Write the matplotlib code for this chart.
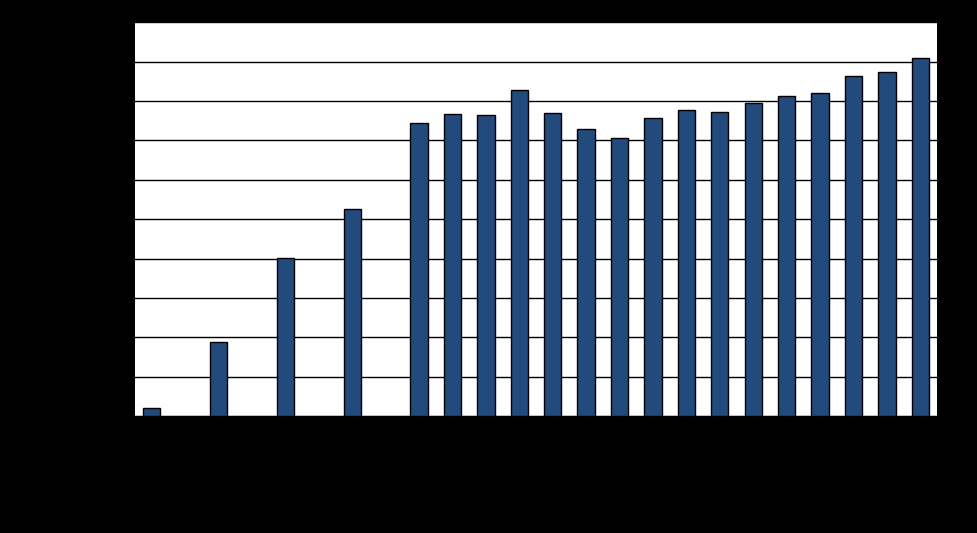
import numpy as np
import matplotlib
matplotlib.use("Agg")
import matplotlib.pyplot as plt

# 24 categories; labels are drawn in black on black in the reference, so unreadable
categories = [str(y) for y in range(1990, 2014)]
values = [2.0, np.nan, 18.7, np.nan, 40.1, np.nan, 52.5, np.nan,
          74.4, 76.6, 76.4, 82.7, 76.9, 72.8, 70.5, 75.6,
          77.6, 77.2, 79.4, 81.2, 82.0, 86.3, 87.3, 90.9]
y_ticks = list(range(0, 101, 10))
y_labels = [f"{t}%" for t in y_ticks]

fig = plt.figure(figsize=(9.77, 5.33), dpi=100, facecolor="black")
ax = fig.add_axes([135 / 977, 1 - 416 / 533, 802 / 977, 393.7 / 533])
ax.set_facecolor("white")

x = np.arange(len(categories))
ax.bar(x, values, width=0.52, color="#234A7D", edgecolor="black", linewidth=1, zorder=3)

ax.set_xlim(-0.5, len(categories) - 0.5)
ax.set_ylim(0, 100)
ax.set_yticks(y_ticks)
ax.set_yticklabels(y_labels, color="black", fontsize=9)
ax.set_xticks(x)
ax.set_xticklabels(categories, color="black", fontsize=9, rotation=90)
ax.yaxis.grid(True, color="black", linewidth=1, zorder=1)
ax.tick_params(colors="black", length=5)

for side in ["top", "right", "left"]:
    ax.spines[side].set_visible(False)
ax.spines["bottom"].set_color("black")

fig.savefig("out.png", dpi=100, facecolor="black")
